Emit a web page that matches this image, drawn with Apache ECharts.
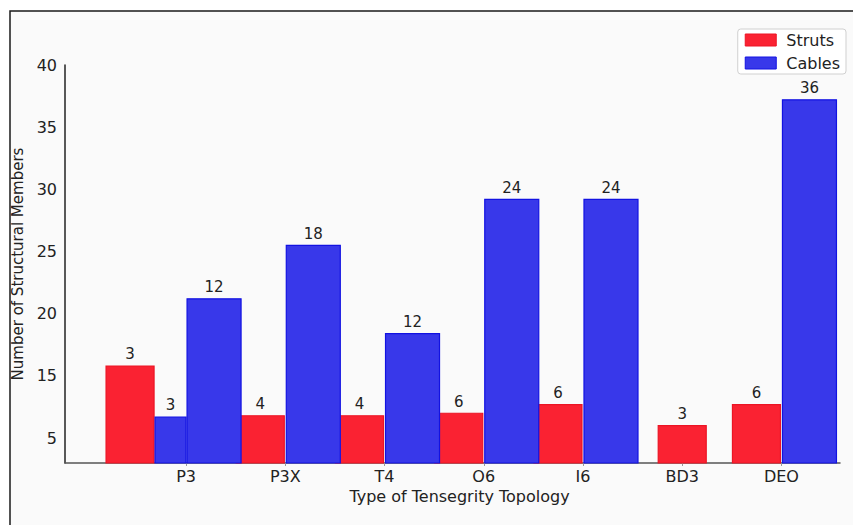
<!DOCTYPE html>
<html>
<head>
<meta charset="utf-8">
<script src="https://cdn.jsdelivr.net/npm/echarts@6/dist/echarts.min.js"></script>
<style>
  html, body { margin: 0; padding: 0; background: #ffffff; }
  #chart { width: 853px; height: 525px; }
</style>
</head>
<body>
<div id="chart"></div>
<script>
// Topologies on the x axis
const topologies = ['P3', 'P3X', 'T4', 'O6', 'I6', 'BD3', 'DEO'];

// Bar heights on the y scale
const strutHeights = [15.8, 11.8, 11.8, 12.0, 12.7, 11.0, 12.7];
const cableHeights = [21.2, 25.5, 18.4, 29.2, 29.2, null, 37.2];
const extraCableHeights = [11.7, null, null, null, null, null, null];

// Member counts printed above the bars
const strutCounts = [3, 4, 4, 6, 6, 3, 6];
const cableCounts = [12, 18, 12, 24, 24, null, 36];
const extraCableCounts = [3, null, null, null, null, null, null];

// Y axis ticks and their printed labels
const yTickValues = [10, 15, 20, 25, 30, 35, 40];
const yTickLabels = ['5', '15', '20', '25', '30', '35', '40'];

const Y_MIN = 8, Y_MAX = 40;
const RED = '#fa2232', RED_EDGE = '#ec1424';
const BLUE = '#3838ea', BLUE_EDGE = '#1212e2';
const STRUT_W = 48, CABLE_W = 54, EXTRA_W = 31;
const FONT = '15px "DejaVu Sans", sans-serif';

function rows(heights, counts) {
  return heights.map((h, i) => h == null ? [i, '-', ''] : [i, h, counts[i]]);
}

// Bars of one group sit side by side around the category tick:
// cables to the right of the tick, struts (and any extra cable bar) to its left.
function makeRenderer(kind) {
  return function (params, api) {
    const v = api.value(1);
    if (isNaN(v)) return;
    const i = api.value(0);
    const base = api.coord([i, Y_MIN]);
    const top = api.coord([i, v]);
    const tick = base[0];
    let x0, w;
    if (kind === 'cable') {
      w = CABLE_W; x0 = tick + 1;
    } else if (kind === 'extra') {
      w = EXTRA_W; x0 = tick - EXTRA_W;
    } else {
      w = STRUT_W;
      if (cableHeights[i] == null) {
        x0 = tick - w / 2;
      } else {
        x0 = tick - 1 - (extraCableHeights[i] != null ? EXTRA_W : 0) - w;
      }
    }
    const isRed = kind === 'strut';
    return {
      type: 'group',
      children: [
        {
          type: 'rect',
          shape: { x: x0, y: top[1], width: w, height: base[1] - top[1] },
          style: { fill: isRed ? RED : BLUE, stroke: isRed ? RED_EDGE : BLUE_EDGE, lineWidth: 1.2 }
        },
        {
          type: 'text',
          x: x0 + w / 2,
          y: top[1] - 4,
          style: {
            text: String(api.value(2)),
            font: FONT,
            fill: '#222',
            align: 'center',
            verticalAlign: 'bottom'
          }
        }
      ]
    };
  };
}

const chart = echarts.init(document.getElementById('chart'), null, { renderer: 'svg' });

chart.setOption({
  animation: false,
  backgroundColor: '#ffffff',
  textStyle: { fontFamily: '"DejaVu Sans", sans-serif' },
  graphic: [
    {
      type: 'rect',
      z: -10,
      silent: true,
      shape: { x: 10, y: 11, width: 900, height: 600 },
      style: { fill: '#fafafa', stroke: '#1a1a1a', lineWidth: 1.5 }
    }
  ],
  grid: { left: 65, right: 13, top: 65, bottom: 62, outerBoundsMode: 'none' },
  legend: {
    orient: 'vertical',
    right: 7,
    top: 29,
    padding: [2, 6, 2, 7],
    itemGap: 5,
    itemWidth: 31,
    itemHeight: 12,
    backgroundColor: '#ffffff',
    borderColor: '#d0d0d0',
    borderWidth: 1,
    borderRadius: 3,
    textStyle: { fontSize: 16, color: '#222', lineHeight: 18, padding: [0, 0, 0, 5] },
    data: [
      { name: 'Struts', icon: 'rect', itemStyle: { color: RED, borderColor: RED_EDGE, borderWidth: 1 } },
      { name: 'Cables', icon: 'rect', itemStyle: { color: BLUE, borderColor: BLUE_EDGE, borderWidth: 1 } }
    ]
  },
  xAxis: {
    type: 'value',
    min: -1.22,
    max: 6.59,
    name: 'Type of Tensegrity Topology',
    nameLocation: 'middle',
    nameGap: 23,
    nameTextStyle: { fontSize: 16, color: '#222', padding: [0, 0, 0, 14] },
    splitLine: { show: false },
    axisLine: { show: true, onZero: false, lineStyle: { color: '#555', width: 1.5 } },
    axisTick: { show: true, customValues: topologies.map((_, i) => i), length: 3, lineStyle: { color: '#999' } },
    axisLabel: {
      customValues: topologies.map((_, i) => i),
      formatter: (v) => topologies[Math.round(v)],
      fontSize: 16,
      color: '#222',
      margin: 5
    }
  },
  yAxis: {
    type: 'value',
    min: Y_MIN,
    max: Y_MAX,
    name: 'Number of Structural Members',
    nameLocation: 'middle',
    nameGap: 37,
    nameTextStyle: { fontSize: 15, color: '#222' },
    splitLine: { show: false },
    axisLine: { show: true, onZero: false, lineStyle: { color: '#222', width: 1.5 } },
    axisTick: { show: false, customValues: yTickValues },
    axisLabel: {
      customValues: yTickValues,
      formatter: (v) => yTickLabels[yTickValues.indexOf(v)],
      fontSize: 16,
      color: '#222',
      margin: 8
    }
  },
  series: [
    {
      name: 'Struts',
      type: 'custom',
      itemStyle: { color: RED },
      renderItem: makeRenderer('strut'),
      encode: { x: 0, y: 1 },
      data: rows(strutHeights, strutCounts)
    },
    {
      name: 'Cables',
      type: 'custom',
      itemStyle: { color: BLUE },
      renderItem: makeRenderer('cable'),
      encode: { x: 0, y: 1 },
      data: rows(cableHeights, cableCounts)
    },
    {
      name: 'Cables',
      type: 'custom',
      itemStyle: { color: BLUE },
      renderItem: makeRenderer('extra'),
      encode: { x: 0, y: 1 },
      data: rows(extraCableHeights, extraCableCounts)
    }
  ]
});
</script>
</body>
</html>
